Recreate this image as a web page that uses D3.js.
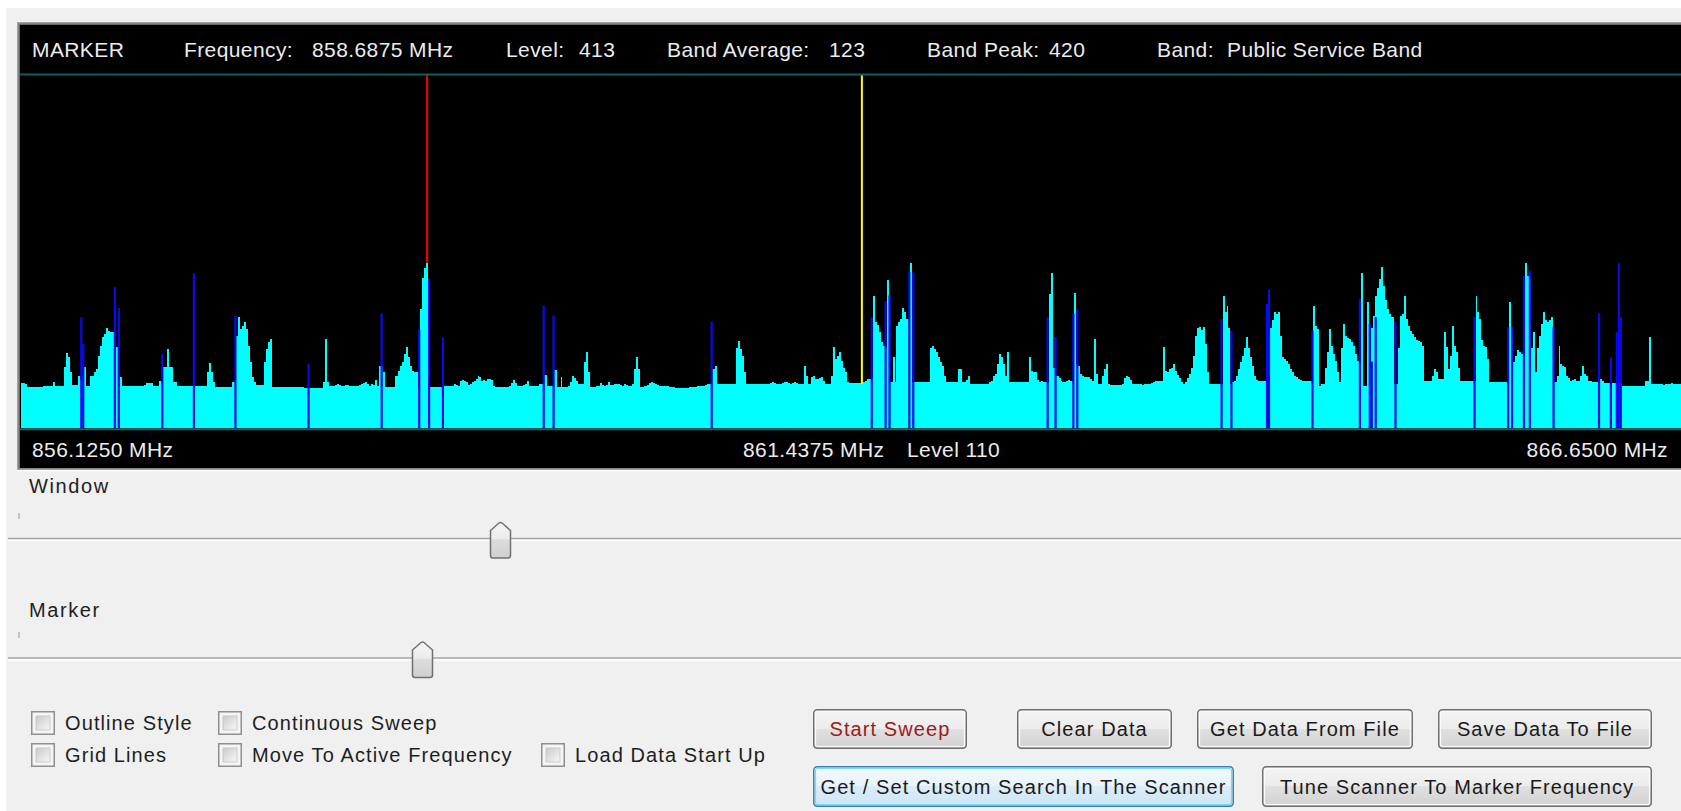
<!DOCTYPE html>
<html>
<head>
	<meta http-equiv="Content-Type" content="text/html; charset=utf-8" />
	<title>Band Sweep</title>
	<script type="text/javascript" src="https://cdn.jsdelivr.net/npm/d3@7/dist/d3.min.js"></script>
	<style>
		body { margin: 0; background: #ffffff; overflow: hidden; }
		svg text { font-family: "Liberation Sans", Arial, sans-serif; }
		.ui { font-size: 20px; letter-spacing: 1.1px; }
	</style>
</head>
<body>
	<svg id="scope" width="1681" height="811"></svg>
	<script type="text/javascript">
		// sweep data, one level per 12.5 kHz channel from 856.1250 MHz
		var startFreq = 856.125;
		var stepMHz = 0.0125;
		var levels = [
			112,112,110,102,102,102,102,102,102,102,102,106,106,106,106,106,116,106,106,106,
			106,106,152,187,177,141,107,107,107,131,120,130,152,106,106,131,131,139,147,181,
			206,227,235,250,243,241,241,241,202,127,127,106,106,106,106,106,106,106,106,106,
			106,106,107,112,112,112,112,106,106,106,118,118,152,152,197,152,152,114,114,106,
			106,106,106,106,106,106,106,116,106,106,106,106,106,106,139,162,139,114,102,102,
			102,102,102,102,102,102,102,116,116,231,277,247,256,264,247,206,164,127,114,107,
			107,107,107,164,197,214,222,102,102,102,102,102,102,102,102,102,102,102,102,102,
			102,102,102,99,99,99,99,99,99,99,99,99,99,116,222,116,106,106,106,108,
			110,108,106,106,108,108,106,106,106,106,106,108,110,112,114,110,106,110,107,121,
			106,156,156,141,102,102,102,102,102,131,131,143,156,164,185,202,177,156,143,139,
			139,102,297,374,400,413,102,102,102,102,102,102,102,121,106,106,106,106,106,110,
			107,106,118,121,118,114,107,110,114,118,122,131,127,118,121,118,122,122,121,106,
			102,102,102,102,102,102,102,106,112,121,112,106,106,106,107,110,118,106,106,106,
			106,106,110,110,132,132,106,106,106,146,146,102,102,127,102,102,102,104,114,131,
			125,118,110,110,110,164,191,140,102,102,102,104,104,112,108,106,108,116,108,108,
			110,110,110,108,106,110,108,106,106,110,147,177,147,102,102,104,106,108,112,116,
			112,110,108,106,106,104,104,104,102,102,102,100,100,100,99,99,100,100,102,102,
			102,102,104,106,106,106,108,110,110,147,147,156,110,110,110,110,110,110,110,110,
			110,110,200,217,197,181,139,110,110,110,110,110,110,110,110,110,110,110,110,112,
			116,112,110,110,110,112,114,116,112,110,112,116,112,110,110,110,156,130,110,110,
			128,130,122,122,125,128,118,110,110,110,130,202,172,180,191,168,150,139,116,112,
			112,112,112,112,112,110,116,118,122,122,125,331,264,258,240,214,205,200,371,114,
			114,177,114,256,265,272,300,291,272,272,412,114,114,114,114,114,114,114,114,114,
			200,206,197,189,177,165,156,131,114,114,114,114,114,114,147,147,114,114,120,131,
			110,110,110,110,110,110,110,110,110,110,114,118,131,135,160,185,177,160,131,191,
			114,114,114,114,114,114,114,114,114,114,177,143,139,139,120,114,118,114,114,114,
			335,387,150,131,131,125,118,114,114,118,121,118,118,337,160,156,135,131,128,127,
			127,122,118,222,135,110,110,130,147,160,110,107,107,107,107,107,107,110,125,131,
			127,120,110,110,110,110,110,108,110,110,110,110,112,116,118,118,118,118,202,143,
			140,147,150,160,143,133,125,115,110,114,125,135,150,180,230,250,252,245,252,210,
			140,110,110,110,110,110,110,110,331,290,306,250,110,114,118,130,147,165,181,200,
			227,200,177,155,131,120,118,118,118,118,139,139,250,270,289,285,291,230,177,172,
			168,160,147,140,131,127,122,120,118,118,118,118,118,118,306,256,247,106,110,110,
			150,189,247,206,185,168,140,114,200,260,231,225,222,215,206,185,168,168,387,106,
			106,316,150,250,280,331,350,372,402,356,320,297,285,277,277,110,110,200,281,285,
			331,272,255,243,235,227,220,217,214,206,118,118,118,118,130,147,139,122,122,122,
			239,202,147,180,256,206,189,150,118,118,118,118,118,118,118,118,331,290,272,220,
			206,202,172,114,114,114,114,114,114,114,114,114,114,316,130,164,180,196,190,185,
			185,412,380,250,200,239,139,200,231,260,291,270,264,270,277,114,114,130,206,160,
			155,152,131,125,118,120,122,118,118,130,156,135,131,118,118,114,114,114,114,122,
			118,112,112,112,112,112,112,112,112,112,106,106,106,106,106,106,106,106,106,106,
			106,106,118,118,227,110,110,110,110,110,110,108,110,110,110,112,110,110,110,110,
			110,110,110
		];

		// active channel hits (blue)
		var hitFreqs = [856.5, 856.5125, 856.7125, 856.7375, 857.0125, 857.2125, 857.475, 857.9375, 858.4, 858.6375,
			858.7, 858.7875, 859.425, 859.4875, 860.4875, 861.5, 861.5875, 861.6125, 861.7375, 861.7625,
			862.6125, 862.6625, 862.775, 862.8, 863.7125, 863.775, 864.0, 864.0125, 864.2875, 864.5875,
			864.65, 864.6625, 864.6875, 864.8125, 865.3125, 865.525, 865.55, 865.625, 865.6625, 865.8125,
			866.1, 866.175, 866.2125, 866.225, 866.2375];
		var hitLevels = [277, 210, 352, 300, 185, 387, 281, 160, 287, 247,
			372, 227, 306, 281, 266, 277, 317, 332, 391, 389,
			277, 227, 287, 297, 272, 243, 310, 346, 243, 322,
			260, 166, 277, 266, 277, 252, 252, 381, 393, 252,
			287, 177, 239, 412, 277];

		var markerFreq = 858.6875, markerLevel = 413;
		var cursorFreq = 861.4375, cursorLevel = 110;
		var bandAverage = 123, bandPeak = 420, bandName = "Public Service Band";

		var sliderLabels = ["Window", "Marker"];
		var checkLabels = ["Outline Style", "Grid Lines", "Continuous Sweep", "Move To Active Frequency", "Load Data Start Up"];
		var buttonLabels = ["Start Sweep", "Clear Data", "Get Data From File", "Save Data To File",
			"Get / Set Custom Search In The Scanner", "Tune Scanner To Marker Frequency"];

		var fmt = d3.format(".4f");
		var stopFreq = startFreq + (levels.length - 1) * stepMHz;
		var svg = d3.select("#scope");
		var defs = svg.append("defs");

		function vGrad(id, stops) {
			var g = defs.append("linearGradient").attr("id", id)
				.attr("x1", 0).attr("y1", 0).attr("x2", 0).attr("y2", 1);
			stops.forEach(function(s) {
				g.append("stop").attr("offset", s[0]).attr("stop-color", s[1]);
			});
		}
		vGrad("btnFill", [[0, "#f4f4f4"], [0.5, "#ececec"], [0.5, "#e0e0e0"], [1, "#d2d2d2"]]);
		vGrad("btnFocus", [[0, "#f3f9fd"], [0.5, "#e8f3fb"], [0.5, "#dbecf8"], [1, "#cfe5f5"]]);
		vGrad("thumbFill", [[0, "#f6f6f6"], [0.45, "#ececec"], [0.5, "#dcdcdc"], [1, "#d0d0d0"]]);
		var boxGrad = defs.append("linearGradient").attr("id", "boxFill")
			.attr("x1", 0).attr("y1", 0).attr("x2", 1).attr("y2", 1);
		boxGrad.append("stop").attr("offset", 0).attr("stop-color", "#cbcbcb");
		boxGrad.append("stop").attr("offset", 1).attr("stop-color", "#f7f7f7");

		// window background
		svg.append("rect").attr("x", 6).attr("y", 8).attr("width", 1675).attr("height", 803).attr("fill", "#f0f0f0");

		// ---- spectrum display ----
		svg.append("rect").attr("x", 17).attr("y", 22).attr("width", 1670).attr("height", 448).attr("fill", "#a0a0a0");
		svg.append("rect").attr("x", 18.5).attr("y", 23.5).attr("width", 1670).attr("height", 445).attr("fill", "#6a6a6a");
		svg.append("rect").attr("x", 20).attr("y", 25).attr("width", 1661).attr("height", 443).attr("fill", "#000000");
		svg.append("line").attr("x1", 17).attr("x2", 1681).attr("y1", 470.5).attr("y2", 470.5)
			.attr("stroke", "#ffffff").attr("stroke-width", 1);

		var x = d3.scaleLinear().domain([startFreq, stopFreq]).range([21, 1685]);
		var y = d3.scaleLinear().domain([0, 880]).range([428, 76]);
		var binW = x(startFreq + stepMHz) - x(startFreq);

		var plot = svg.append("g");
		plot.append("clipPath").attr("id", "plotClip")
			.append("rect").attr("x", 20).attr("y", 25).attr("width", 1661).attr("height", 443);
		plot.attr("clip-path", "url(#plotClip)");

		var spectrum = levels.map(function(v, i) { return { f: startFreq + i * stepMHz, v: v }; });
		spectrum.push({ f: stopFreq + stepMHz, v: levels[levels.length - 1] });

		var area = d3.area().curve(d3.curveStepAfter)
			.x(function(d) { return x(d.f); })
			.y0(y(0))
			.y1(function(d) { return y(d.v); });

		plot.append("path").datum(spectrum)
			.attr("d", area)
			.attr("fill", "#00ffff")
			.attr("shape-rendering", "crispEdges");

		var hits = hitFreqs.map(function(f, i) { return { f: f, v: hitLevels[i] }; });
		plot.selectAll(".hit").data(hits).enter().append("line")
			.attr("class", "hit")
			.attr("x1", function(d) { return x(d.f) + binW / 2; })
			.attr("x2", function(d) { return x(d.f) + binW / 2; })
			.attr("y1", y(0))
			.attr("y2", function(d) { return y(d.v); })
			.attr("stroke", "#0a0aee")
			.attr("stroke-width", 2.2);

		// marker (red) and cursor (yellow)
		plot.append("line")
			.attr("x1", x(markerFreq) + binW / 2).attr("x2", x(markerFreq) + binW / 2)
			.attr("y1", y.range()[1] - 1).attr("y2", y(markerLevel))
			.attr("stroke", "#ff0000").attr("stroke-width", 2);
		plot.append("line")
			.attr("x1", x(cursorFreq) + binW / 2).attr("x2", x(cursorFreq) + binW / 2)
			.attr("y1", y.range()[1] - 1).attr("y2", y(cursorLevel))
			.attr("stroke", "#ffff00").attr("stroke-width", 2);

		plot.append("line").attr("x1", 20).attr("x2", 1681).attr("y1", 74.5).attr("y2", 74.5)
			.attr("stroke", "#135c5c").attr("stroke-width", 2);
		plot.append("line").attr("x1", 20).attr("x2", 1681).attr("y1", 429.2).attr("y2", 429.2)
			.attr("stroke", "#0d6a6a").attr("stroke-width", 2);

		var header = [
			{ t: "MARKER", x: 32 },
			{ t: "Frequency:", x: 184 },
			{ t: fmt(markerFreq) + " MHz", x: 312 },
			{ t: "Level:", x: 506 },
			{ t: String(markerLevel), x: 579 },
			{ t: "Band Average:", x: 667 },
			{ t: String(bandAverage), x: 829 },
			{ t: "Band Peak:", x: 927 },
			{ t: String(bandPeak), x: 1049 },
			{ t: "Band:", x: 1157 },
			{ t: bandName, x: 1227 }
		];
		svg.selectAll(".head").data(header).enter().append("text")
			.attr("class", "head")
			.attr("x", function(d) { return d.x; })
			.attr("y", 57)
			.attr("fill", "#ececec")
			.style("font-size", "21px")
			.style("letter-spacing", "0.4px")
			.text(function(d) { return d.t; });

		var foot = [
			{ t: fmt(startFreq) + " MHz", x: 32, a: "start" },
			{ t: fmt(cursorFreq) + " MHz", x: 743, a: "start" },
			{ t: "Level " + cursorLevel, x: 907, a: "start" },
			{ t: fmt(stopFreq) + " MHz", x: 1668, a: "end" }
		];
		svg.selectAll(".foot").data(foot).enter().append("text")
			.attr("class", "foot")
			.attr("x", function(d) { return d.x; })
			.attr("y", 457)
			.attr("text-anchor", function(d) { return d.a; })
			.attr("fill", "#ececec")
			.style("font-size", "21px")
			.style("letter-spacing", "0.4px")
			.text(function(d) { return d.t; });

		// ---- sliders ----
		var sliders = [
			{ label: sliderLabels[0], labelY: 493, tickY: 513, trackY: 538.5, thumbX: 500.5 },
			{ label: sliderLabels[1], labelY: 617, tickY: 632, trackY: 658, thumbX: 422.5 }
		];
		var sl = svg.selectAll(".slider").data(sliders).enter().append("g").attr("class", "slider");
		sl.append("text")
			.attr("class", "ui")
			.attr("x", 29).attr("y", function(d) { return d.labelY; })
			.attr("fill", "#1e1e1e")
			.style("letter-spacing", "1.6px")
			.text(function(d) { return d.label; });
		sl.append("line")
			.attr("x1", 19).attr("x2", 19)
			.attr("y1", function(d) { return d.tickY; })
			.attr("y2", function(d) { return d.tickY + 6; })
			.attr("stroke", "#a8a8a8").attr("stroke-width", 1.2);
		sl.append("line")
			.attr("x1", 8).attr("x2", 1681)
			.attr("y1", function(d) { return d.trackY; })
			.attr("y2", function(d) { return d.trackY; })
			.attr("stroke", "#a6a6a6").attr("stroke-width", 1.6);
		sl.append("line")
			.attr("x1", 8).attr("x2", 1681)
			.attr("y1", function(d) { return d.trackY + 2; })
			.attr("y2", function(d) { return d.trackY + 2; })
			.attr("stroke", "#ffffff").attr("stroke-width", 1.4);
		sl.append("path")
			.attr("d", function(d) {
				var c = d.thumbX, t = d.trackY - 16;
				return "M" + (c - 10) + "," + (t + 8) +
					" L" + (c - 1.5) + "," + (t + 0.5) +
					" Q" + c + "," + (t - 0.6) + " " + (c + 1.5) + "," + (t + 0.5) +
					" L" + (c + 10) + "," + (t + 8) +
					" L" + (c + 10) + "," + (t + 33) +
					" Q" + (c + 10) + "," + (t + 35.5) + " " + (c + 7.5) + "," + (t + 35.5) +
					" L" + (c - 7.5) + "," + (t + 35.5) +
					" Q" + (c - 10) + "," + (t + 35.5) + " " + (c - 10) + "," + (t + 33) + " Z";
			})
			.attr("fill", "url(#thumbFill)")
			.attr("stroke", "#707070").attr("stroke-width", 1.5);

		// ---- check boxes ----
		var checkPos = [[31, 711], [31, 743], [218, 711], [218, 743], [541, 743]];
		var checks = checkLabels.map(function(t, i) { return { t: t, x: checkPos[i][0], y: checkPos[i][1] }; });
		var cb = svg.selectAll(".check").data(checks).enter().append("g").attr("class", "check")
			.attr("transform", function(d) { return "translate(" + d.x + "," + d.y + ")"; });
		cb.append("rect").attr("x", 0.75).attr("y", 0.75).attr("width", 22.5).attr("height", 22.5)
			.attr("fill", "#f5f5f5").attr("stroke", "#8f8f8f").attr("stroke-width", 1.5);
		cb.append("rect").attr("x", 5).attr("y", 5).attr("width", 14).attr("height", 14)
			.attr("fill", "url(#boxFill)").attr("stroke", "#c2c2c2").attr("stroke-width", 0.8);
		cb.append("text")
			.attr("class", "ui")
			.attr("x", 34).attr("y", 19)
			.attr("fill", "#1e1e1e")
			.text(function(d) { return d.t; });

		// ---- buttons ----
		var buttonBoxes = [[813, 709, 154, 40], [1017, 709, 155, 40], [1197, 709, 216, 40], [1438, 709, 214, 40],
			[813, 766, 421, 41], [1262, 766, 390, 41]];
		var buttons = buttonLabels.map(function(t, i) {
			var b = buttonBoxes[i];
			return { t: t, x: b[0], y: b[1], w: b[2], h: b[3], focus: i == 4, red: i == 0 };
		});
		var bt = svg.selectAll(".btn").data(buttons).enter().append("g").attr("class", "btn")
			.attr("transform", function(d) { return "translate(" + d.x + "," + d.y + ")"; });
		bt.append("rect")
			.attr("x", 0.75).attr("y", 0.75)
			.attr("width", function(d) { return d.w - 1.5; })
			.attr("height", function(d) { return d.h - 1.5; })
			.attr("rx", 3.5)
			.attr("fill", function(d) { return d.focus ? "url(#btnFocus)" : "url(#btnFill)"; })
			.attr("stroke", function(d) { return d.focus ? "#3c7fb1" : "#707070"; })
			.attr("stroke-width", 1.5);
		bt.append("rect")
			.attr("x", 2.5).attr("y", 2.5)
			.attr("width", function(d) { return d.w - 5; })
			.attr("height", function(d) { return d.h - 5; })
			.attr("rx", 2)
			.attr("fill", "none")
			.attr("stroke", function(d) { return d.focus ? "#7fd6f8" : "#fbfbfb"; })
			.attr("stroke-width", 1.2);
		bt.append("text")
			.attr("class", "ui")
			.attr("x", function(d) { return d.w / 2; })
			.attr("y", function(d) { return d.h / 2 + 7; })
			.attr("text-anchor", "middle")
			.attr("fill", function(d) { return d.red ? "#9a1a22" : "#1a1a1a"; })
			.text(function(d) { return d.t; });
	</script>
</body>
</html>
